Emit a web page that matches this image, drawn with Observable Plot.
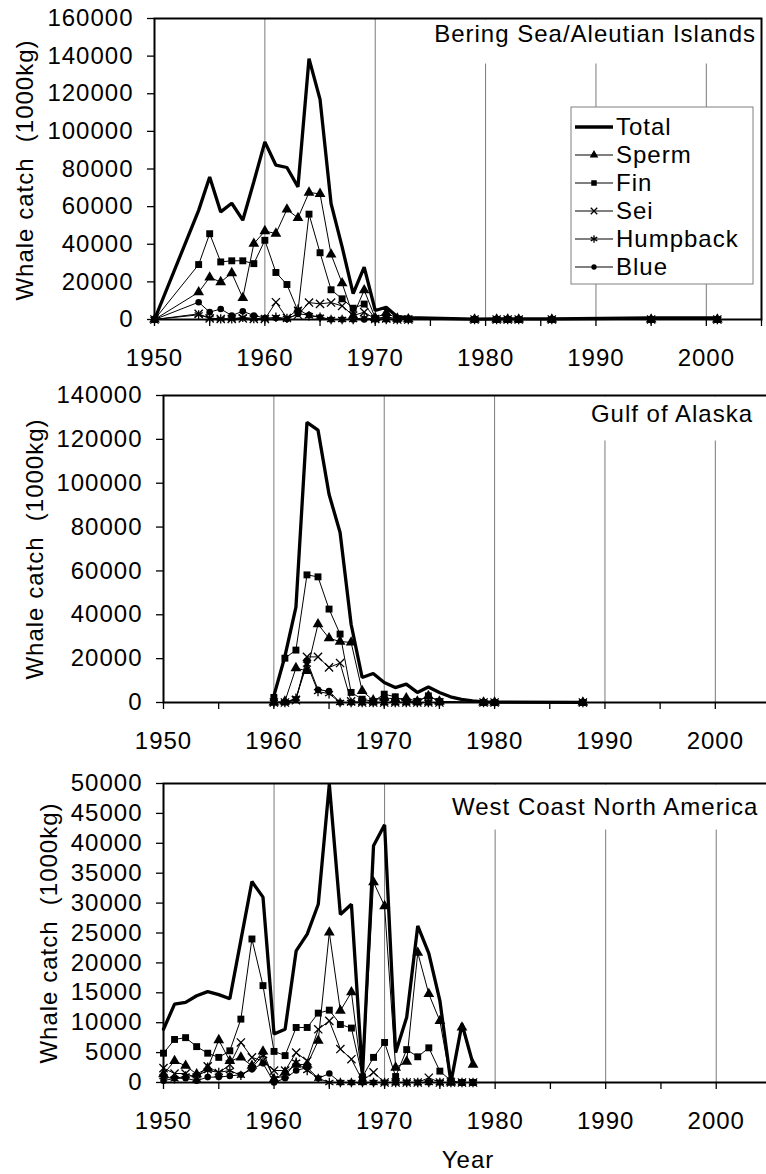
<!DOCTYPE html>
<html>
<head>
<meta charset="utf-8">
<script src="https://cdn.jsdelivr.net/npm/d3@7"></script>
<script src="https://cdn.jsdelivr.net/npm/@observablehq/plot@0.6"></script>
<style>
  html, body { margin: 0; padding: 0; background: #fff; }
  #wrap { position: relative; width: 766px; height: 1174px; overflow: hidden; background: #fff; }
  .panel { position: absolute; left: 0; }
</style>
</head>
<body>
<div id="wrap"></div>
<script>
// ---------------- DATA ----------------
const seriesNames = ["Total", "Sperm", "Fin", "Sei", "Humpback", "Blue"];

// Bering Sea / Aleutian Islands
const bsaiYears    = [1950,1954,1955,1956,1957,1958,1959,1960,1961,1962,1963,1964,1965,1966,1967,1968,1969,1970,1971,1972,1973,1979,1981,1982,1983,1986,1995,2001];
const bsaiTotal    = [0,58000,75800,57200,61800,52800,73200,94400,82000,80800,70500,138700,117000,61600,38600,13700,27800,4800,6500,1500,1000,200,300,300,300,300,800,800];
const bsaiSperm    = [0,14500,22400,19900,24700,11500,40300,47000,45700,58500,54000,67500,66800,34600,19300,2000,15600,800,3500,600,200,0,0,0,0,0,0,0];
const bsaiFin      = [0,29200,45600,30600,31200,31200,29700,42100,25000,18600,4500,56000,35500,15800,11000,6000,8200,500,1500,300,300,0,0,0,0,0,0,0];
const bsaiSei      = [0,3000,600,300,300,600,300,300,9200,800,2500,9000,8300,9000,7200,2100,3900,300,500,0,0,0,0,0,0,0,0,0];
const bsaiHumpback = [0,2500,800,300,300,1200,500,300,1200,600,5500,2000,1200,0,0,0,1000,0,0,0,0,0,0,0,0,0,0,0];
const bsaiBlue     = [0,9200,3900,5600,2100,4400,2100,800,800,200,3000,2400,1200,0,0,0,0,0,0,0,0,0,0,0,0,0,0,0];

// Gulf of Alaska
const goaYears    = [1960,1961,1962,1963,1964,1965,1966,1967,1968,1969,1970,1971,1972,1973,1974,1975,1976,1977,1978,1979,1980,1988];
const goaTotal    = [3000,21000,43500,127700,124200,95000,77500,35700,11400,13200,9100,6800,8400,4600,7100,4600,2600,1400,700,300,200,100];
const goaSperm    = [0,500,15700,14400,35700,29300,27800,27400,5300,1000,2300,1500,2000,500,3000,500,null,null,null,0,0,0];
const goaFin      = [2300,20200,23900,58200,57300,42600,31200,4600,1500,500,3800,2600,500,500,3000,500,null,null,null,0,0,0];
const goaSei      = [0,0,1000,20800,20800,16000,18000,500,0,0,0,0,0,0,0,0,null,null,null,0,0,0];
const goaHumpback = [0,0,2000,17500,5000,4000,0,0,0,0,0,0,0,0,0,0,null,null,null,0,0,0];
const goaBlue     = [0,0,1500,19000,5800,5200,0,0,0,0,0,0,0,0,0,0,null,null,null,0,0,0];

// West Coast North America
const wcYears    = [1950,1951,1952,1953,1954,1955,1956,1957,1958,1959,1960,1961,1962,1963,1964,1965,1966,1967,1968,1969,1970,1971,1972,1973,1974,1975,1976,1977,1978];
const wcTotal    = [8900,13100,13400,14500,15200,14700,14000,23800,33600,31000,8100,8900,22000,24800,29800,49900,28100,29800,1200,39600,43100,5000,10900,26200,21600,13700,0,9800,3100];
const wcSperm    = [1400,3600,2800,1400,2400,7100,3600,4200,2800,5200,500,1700,3000,3000,7000,25100,12000,15100,300,33500,29500,2500,3500,21700,14800,10300,0,9200,3000];
const wcFin      = [4900,7200,7500,6000,4900,4200,5300,10600,24000,16200,5200,4500,9200,9200,11600,12100,9700,9100,950,4200,6700,1000,5500,4300,5800,1900,300,0,0];
const wcSei      = [2400,1500,1500,800,2700,1600,3000,6700,4200,3600,2000,2000,5000,3600,8900,10300,5600,3900,300,1700,0,0,0,0,800,0,0,0,0];
const wcHumpback = [1000,600,1100,1100,2000,1700,2000,1200,2500,4500,700,1100,3400,2000,700,0,0,0,0,0,0,0,0,0,0,0,0,0,0];
const wcBlue     = [300,700,700,300,900,900,1100,1300,2200,3200,0,700,2000,2500,700,1500,0,0,0,0,0,0,0,0,0,0,0,0,0];

// axis ticks
const xTickYears = [1950,1955,1960,1965,1970,1975,1980,1985,1990,1995,2000,2005];
const xGridYears = [1960,1970,1980,1990,2000];
const yTicksBsai = [0,20000,40000,60000,80000,100000,120000,140000,160000];
const yTicksGoa  = [0,20000,40000,60000,80000,100000,120000,140000];
const yTicksWc   = [0,5000,10000,15000,20000,25000,30000,35000,40000,45000,50000];

const yLabelText = "Whale catch  (1000kg)";

// ---------------- HELPERS ----------------
const FONT = '"Liberation Sans", Arial, sans-serif';
const symbolStyle = {
  Sperm:    {symbol: "triangle", r: 4.0, fill: "black", stroke: "none"},
  Fin:      {symbol: "square",   r: 3.9, fill: "black", stroke: "none"},
  Sei:      {symbol: "times",    r: 3.8, fill: "none",  stroke: "black", strokeWidth: 1.3},
  Humpback: {symbol: "asterisk", r: 4.4, fill: "none",  stroke: "black", strokeWidth: 1.3},
  Blue:     {symbol: "circle",   r: 3.3, fill: "black", stroke: "none"}
};
const d3Sym = {triangle: d3.symbolTriangle, square: d3.symbolSquare, times: d3.symbolTimes, asterisk: d3.symbolAsterisk, circle: d3.symbolCircle};

function tidy(years, cols) {
  const out = [];
  for (const name of seriesNames) {
    cols[name].forEach((v, i) => { if (v != null) out.push({year: years[i], value: v, series: name}); });
  }
  return out;
}

function makePanel(cfg) {
  const rows = tidy(cfg.years, cfg.cols);
  const total = rows.filter(d => d.series === "Total");
  const species = rows.filter(d => d.series !== "Total");
  const marks = [
    Plot.gridX(xGridYears, {stroke: "#7a7a7a", strokeOpacity: 1, strokeWidth: 1}),
    Plot.axisX(xTickYears, {tickSize: 7, tickPadding: 22, tickFormat: d => d % 10 === 0 ? String(d) : "", label: null, strokeWidth: 1.3}),
    Plot.axisY(cfg.yTicks, {tickSize: 7, tickPadding: 14, tickFormat: d => String(d), label: null, strokeWidth: 1.3}),
    Plot.line(total, {x: "year", y: "value", stroke: "black", strokeWidth: 3.3, strokeLinejoin: "miter"}),
    Plot.line(species, {x: "year", y: "value", z: "series", stroke: "black", strokeWidth: 1})
  ];
  for (const name of ["Blue", "Humpback", "Sei", "Fin", "Sperm"]) {
    const s = symbolStyle[name];
    marks.push(Plot.dot(species.filter(d => d.series === name), {x: "year", y: "value", ...s}));
  }
  marks.push(Plot.frame({stroke: "black", strokeWidth: 2}));

  const el = Plot.plot({
    width: cfg.width, height: cfg.height,
    marginTop: cfg.marginTop, marginBottom: cfg.marginBottom,
    marginLeft: cfg.marginLeft, marginRight: cfg.marginRight,
    style: `font-family: ${FONT}; font-size: 24px; letter-spacing: 1px; max-width: none; background: transparent; color: black; overflow: visible;`,
    x: {domain: [1950, 2005], axis: null, label: null},
    y: {domain: [0, cfg.yMax], axis: null, label: null},
    marks
  });

  const svg = d3.select(el);
  // white box behind panel title (hides gridlines)
  svg.insert("rect", '[aria-label="frame"]')
    .attr("x", cfg.titleBox[0]).attr("y", cfg.titleBox[1])
    .attr("width", cfg.titleBox[2]).attr("height", cfg.titleBox[3])
    .attr("fill", "white");
  svg.append("text")
    .attr("x", cfg.titleX).attr("y", cfg.titleY)
    .attr("text-anchor", cfg.titleAnchor)
    .attr("fill", "black")
    .text(cfg.title);
  // y-axis label
  svg.append("text")
    .attr("transform", `translate(${cfg.yLabelX},${cfg.yLabelY}) rotate(-90)`)
    .attr("text-anchor", "middle")
    .attr("fill", "black")
    .text(yLabelText);

  if (cfg.xLabel) {
    svg.append("text")
      .attr("x", cfg.xLabel[0]).attr("y", cfg.xLabel[1])
      .attr("text-anchor", "middle").attr("fill", "black")
      .text("Year");
  }

  if (cfg.legend) {
    const [lx, ly, lw, lh] = cfg.legend;
    const g = svg.append("g").attr("text-anchor", "start");
    g.append("rect").attr("x", lx).attr("y", ly).attr("width", lw).attr("height", lh)
      .attr("fill", "white").attr("stroke", "#808080").attr("stroke-width", 1);
    seriesNames.forEach((name, i) => {
      const cy = ly + 20 + i * 28;
      g.append("line").attr("x1", lx + 4).attr("x2", lx + 42).attr("y1", cy).attr("y2", cy)
        .attr("stroke", "black").attr("stroke-width", name === "Total" ? 3.3 : 1);
      if (name !== "Total") {
        const s = symbolStyle[name];
        const rr = s.r * 0.8;
        g.append("path")
          .attr("d", d3.symbol(d3Sym[s.symbol], rr * rr * Math.PI)())
          .attr("transform", `translate(${lx + 23},${cy})`)
          .attr("fill", s.fill).attr("stroke", s.stroke)
          .attr("stroke-width", s.strokeWidth || 0);
      }
      g.append("text").attr("x", lx + 45).attr("y", cy).attr("dy", "0.35em")
        .attr("text-anchor", "start")
        .attr("fill", "black").text(name);
    });
  }

  const div = document.createElement("div");
  div.className = "panel";
  div.style.top = cfg.top + "px";
  div.appendChild(el);
  document.getElementById("wrap").appendChild(div);
}

// ---------------- PANELS ----------------
makePanel({
  top: 0, width: 766, height: 372,
  marginTop: 18, marginBottom: 53, marginLeft: 154, marginRight: 5,
  yMax: 160000, yTicks: yTicksBsai,
  years: bsaiYears,
  cols: {Total: bsaiTotal, Sperm: bsaiSperm, Fin: bsaiFin, Sei: bsaiSei, Humpback: bsaiHumpback, Blue: bsaiBlue},
  title: "Bering Sea/Aleutian Islands", titleX: 756, titleY: 42, titleAnchor: "end",
  titleBox: [410, 19.5, 350, 44],
  yLabelX: 33, yLabelY: 170,
  legend: [571, 107, 182, 177]
});

makePanel({
  top: 372, width: 771, height: 386,
  marginTop: 23, marginBottom: 56, marginLeft: 163, marginRight: 1,
  yMax: 140000, yTicks: yTicksGoa,
  years: goaYears,
  cols: {Total: goaTotal, Sperm: goaSperm, Fin: goaFin, Sei: goaSei, Humpback: goaHumpback, Blue: goaBlue},
  title: "Gulf of Alaska", titleX: 753, titleY: 50, titleAnchor: "end",
  titleBox: [585, 24.5, 190, 44],
  yLabelX: 43, yLabelY: 177
});

makePanel({
  top: 758, width: 772, height: 416,
  marginTop: 25, marginBottom: 92, marginLeft: 163, marginRight: 1,
  yMax: 50000, yTicks: yTicksWc,
  years: wcYears,
  cols: {Total: wcTotal, Sperm: wcSperm, Fin: wcFin, Sei: wcSei, Humpback: wcHumpback, Blue: wcBlue},
  title: "West Coast North America", titleX: 452, titleY: 57, titleAnchor: "start",
  titleBox: [440, 26.5, 340, 45],
  yLabelX: 57, yLabelY: 175,
  xLabel: [468, 410]
});
</script>
</body>
</html>
